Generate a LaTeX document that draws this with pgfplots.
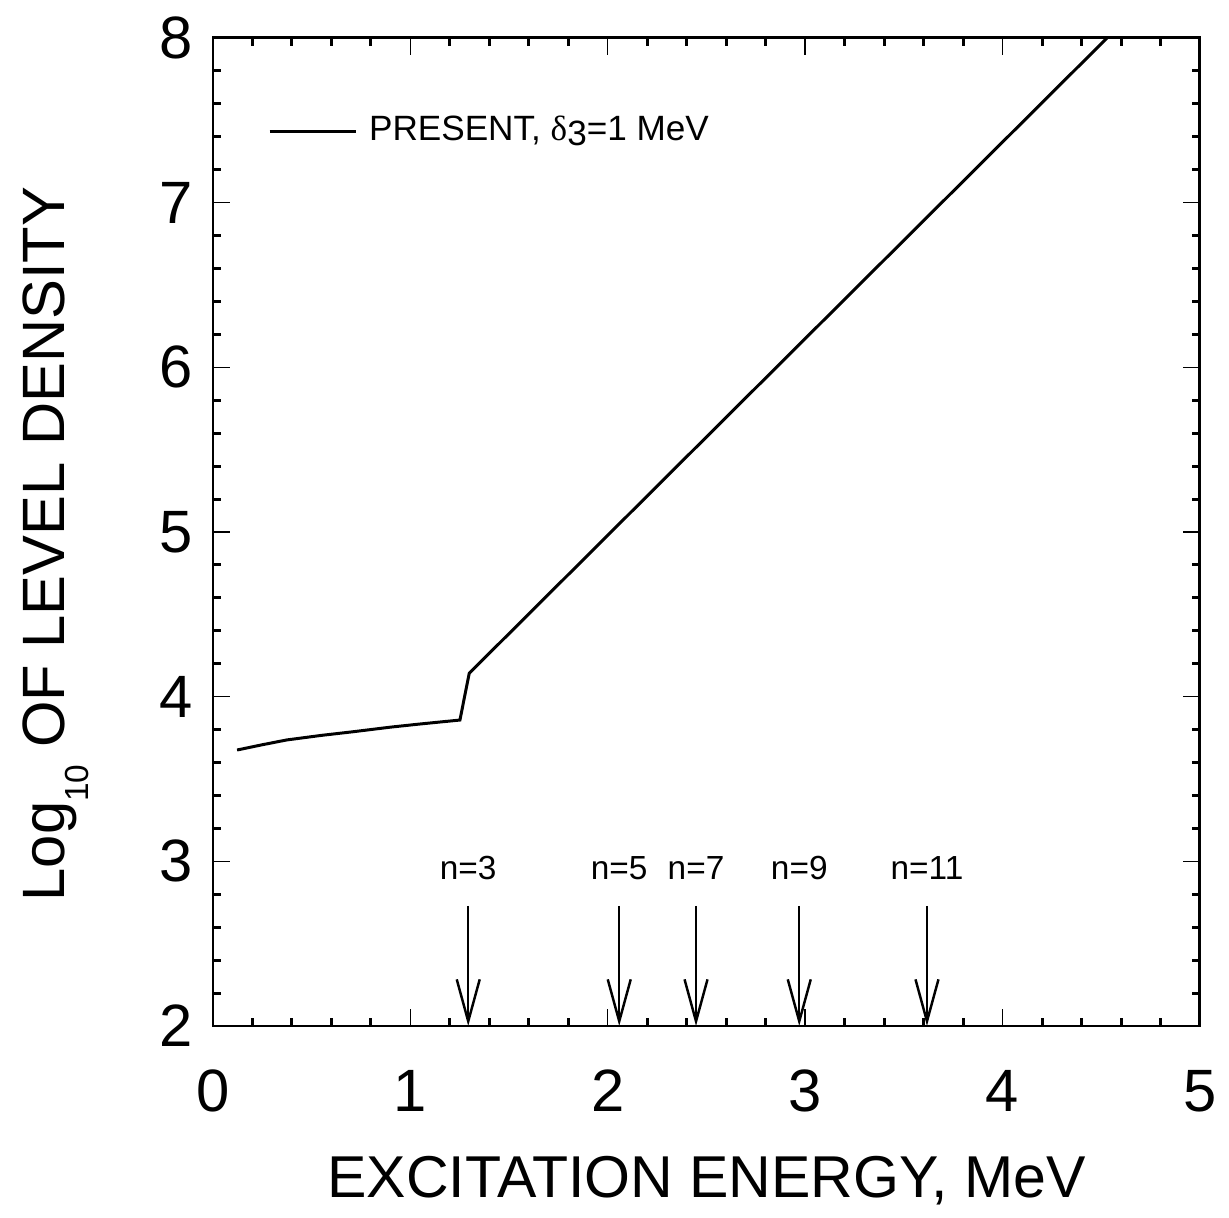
\documentclass[border=0pt]{standalone}
\usepackage{pgfplots}
\pgfplotsset{compat=1.18}
\usepackage{fontspec}
\setmainfont{Liberation Sans}
\newfontfamily\serifgreek{Liberation Serif}
\usetikzlibrary{arrows.meta}
\begin{document}
\begin{tikzpicture}
\begin{axis}[
  width=9.87cm, height=9.88cm, scale only axis,
  xmin=0, xmax=5, ymin=2, ymax=8,
  xtick={0,1,2,3,4,5}, ytick={2,3,4,5,6,7,8},
  minor x tick num=4, minor y tick num=4,
  tick align=inside, tick pos=both,
  axis line style={line width=0.85pt},
  major tick length=0.17cm, minor tick length=0.08cm,
  major tick style={line width=0.4pt, black},
  minor tick style={line width=0.85pt, black},
  /pgf/number format/assume math mode=true,
  ticklabel style={font=\fontsize{17}{17}\selectfont},
  xticklabel style={anchor=base, yshift=-0.86cm},
  yticklabel style={anchor=east, inner sep=0pt, xshift=-0.2cm},
  clip=false,
  legend style={at={(axis cs:0.279,7.435)}, anchor=west, draw=none, fill=none,
    inner sep=0pt, outer sep=0pt, font=\fontsize{10}{11}\selectfont,
    nodes={inner sep=0pt}},
  legend cell align=left,
  legend image code/.code={\draw[#1] (0cm,0cm) -- (0.86cm,0cm);},
]
\addplot[black, line width=0.85pt] coordinates {
  (0.122,3.676) (0.25,3.708) (0.373,3.737) (0.55,3.765) (0.71,3.787)
  (0.9,3.815) (1.049,3.834) (1.251,3.858) (1.298,4.142) (4.529,8.0)
};
\addlegendentry{\hspace*{0.12cm}PRESENT, {\serifgreek δ}\raisebox{-0.25ex}{3}=1 MeV}
\pgfplotsinvokeforeach{1.293,2.058,2.447,2.970,3.617}{
  \addplot[forget plot, black, line width=0.7pt,
    -{Straight Barb[length=0.42cm, width=0.23cm, line width=0.7pt]}]
    coordinates {(#1,2.73) (#1,2)};
}
\node[font=\fontsize{9.5}{9.5}\selectfont] at (axis cs:1.293,2.96) {n=3};
\node[font=\fontsize{9.5}{9.5}\selectfont] at (axis cs:2.058,2.96) {n=5};
\node[font=\fontsize{9.5}{9.5}\selectfont] at (axis cs:2.447,2.96) {n=7};
\node[font=\fontsize{9.5}{9.5}\selectfont] at (axis cs:2.970,2.96) {n=9};
\node[font=\fontsize{9.5}{9.5}\selectfont] at (axis cs:3.617,2.96) {n=11};
\end{axis}
\node[rotate=90, anchor=base, font=\fontsize{17}{17}\selectfont]
  at ([xshift=-1.48cm, yshift=-0.12cm]current axis.west)
  {Log\raisebox{-0.4em}{\fontsize{9.5}{9.5}\selectfont 10} OF LEVEL DENSITY};
\node[anchor=base, font=\fontsize{16.8}{16.8}\selectfont]
  at ([yshift=-1.72cm]current axis.south) {EXCITATION ENERGY, MeV};
\path ([xshift=-2.13cm, yshift=-1.92cm]current axis.south west) rectangle ++(12.29cm,12.18cm);
\end{tikzpicture}
\end{document}
